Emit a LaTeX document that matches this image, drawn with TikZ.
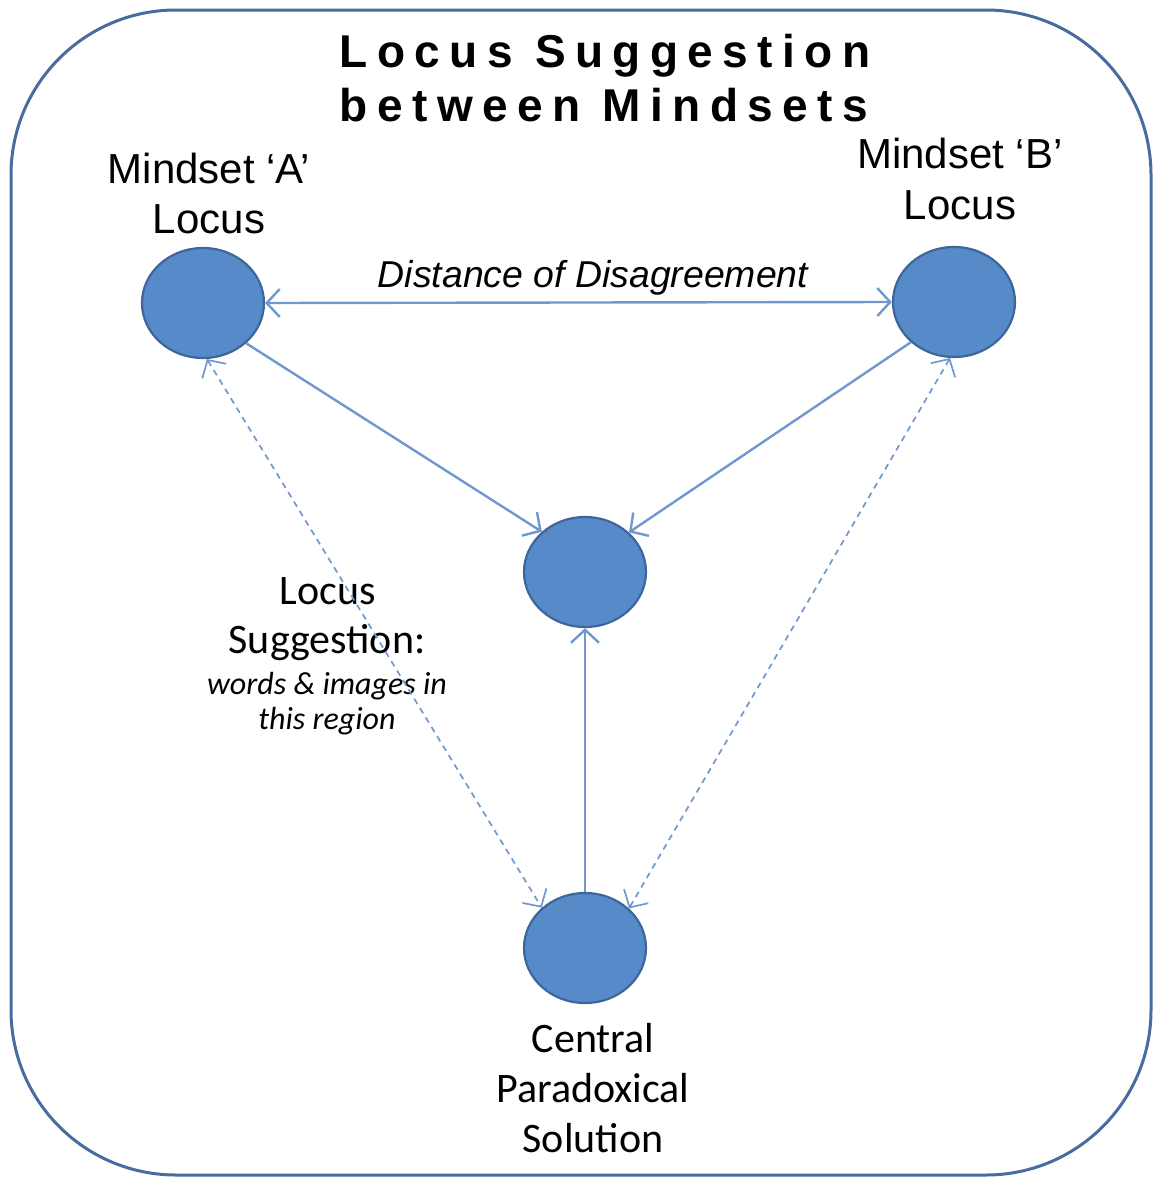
\documentclass[tikz,border=0pt]{standalone}
\usepackage{fontspec}
\setmainfont{Liberation Sans}
\newfontfamily\arialf{Liberation Sans}
\newfontfamily\titlef[LetterSpace=20.5]{Liberation Sans}
\newfontfamily\calf{Carlito}
\usetikzlibrary{shapes.geometric,arrows.meta}
\definecolor{frameblue}{RGB}{72,108,160}
\definecolor{dotfill}{RGB}{86,138,200}
\definecolor{dotline}{RGB}{62,102,154}
\definecolor{linkblue}{RGB}{112,152,206}
\tikzset{
  dot/.style={ellipse, fill=dotfill, draw=dotline, line width=2.2pt, minimum width=122pt, minimum height=110pt, inner sep=0pt},
  barb/.style={Straight Barb[length=13pt,width=28pt]},
  link/.style={draw=linkblue, line width=2.4pt, arrows={-Straight Barb[length=13pt,width=28pt]}},
  dlink/.style={draw=linkblue, line width=1.7pt, dash pattern=on 6pt off 5pt, arrows={Straight Barb[length=13pt,width=28pt]-Straight Barb[length=13pt,width=28pt]}},
  txt/.style={inner sep=0pt, anchor=base, text=black},
  titletxt/.style={txt, font=\titlef\bfseries\fontsize{46}{50}\selectfont},
  ltxt/.style={txt, font=\arialf\fontsize{42}{48}\selectfont},
  ctxt/.style={txt, font=\calf\fontsize{42}{50}\selectfont},
  citxt/.style={txt, font=\calf\itshape\fontsize{32}{36}\selectfont},
}
\begin{document}
\begin{tikzpicture}[x=1pt,y=-1pt]
\useasboundingbox (0,0) rectangle (1156,1178);
\draw[frameblue, line width=3pt, rounded corners=165pt] (11,10) rectangle (1151,1175);
% title
\node[titletxt] (t1) at (605,67) {Locus Suggestion};
\node[titletxt] (t2) at (604,121) {between Mindsets};
% circles
\node[dot] (A) at (203,303) {};
\node[dot] (B) at (954,302) {};
\node[dot] (C) at (585,572) {};
\node[dot] (D) at (585,948) {};
% labels
\node[ltxt] (la1) at (209,183) {Mindset ‘A’};
\node[ltxt] (la2) at (209,233) {Locus};
\node[ltxt] (lb1) at (960,168) {Mindset ‘B’};
\node[ltxt] (lb2) at (960,219) {Locus};
\node[txt, font=\arialf\itshape\fontsize{37.4}{40}\selectfont] (dist) at (593,287) {Distance of Disagreement};
\node[ctxt] (ls1) at (328,604) {Locus};
\node[ctxt] (ls2) at (327,653) {Suggestion:};
\node[citxt] (ls3) at (327,694) {words \& images in};
\node[citxt] (ls4) at (327,729) {this region};
\node[ctxt] (cp1) at (593,1052) {Central};
\node[ctxt] (cp2) at (593,1102) {Paradoxical};
\node[ctxt] (cp3) at (593,1152) {Solution};
% connectors
\draw[link, arrows={Straight Barb[length=13pt,width=28pt]-Straight Barb[length=13pt,width=28pt]}] (A.east) -- (B.west);
\draw[link] (A.-43) -- (C.137);
\draw[link] (B.-137) -- (C.42);
\draw[link] (D.north) -- (C.south);
\draw[dlink] (A.-86) -- (D.137);
\draw[dlink] (B.-94) -- (D.42);
\end{tikzpicture}
\end{document}
